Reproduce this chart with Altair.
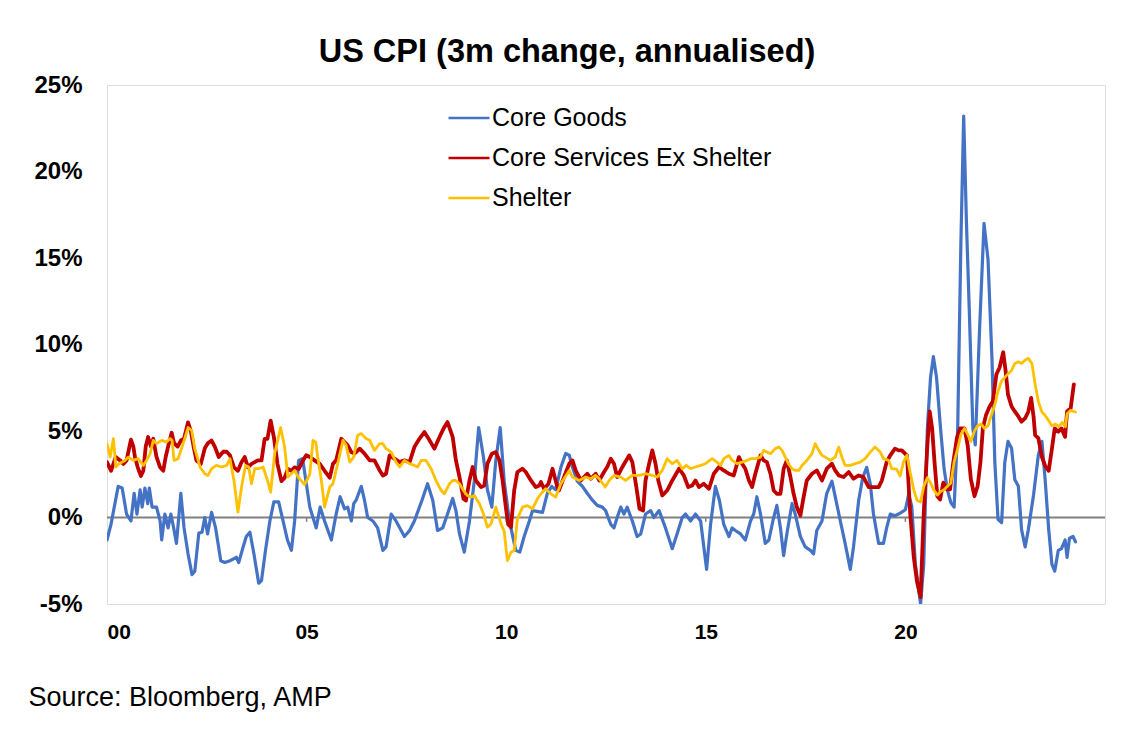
import altair as alt
import pandas as pd

TITLE = "US CPI (3m change, annualised)"
SOURCE = "Source: Bloomberg, AMP"
SERIES = ["Core Goods", "Core Services Ex Shelter", "Shelter"]
COLORS = ["#4472C4", "#C00000", "#FFC000"]
X_TICKS = [2000, 2005, 2010, 2015, 2020]
Y_TICKS = [-5, 0, 5, 10, 15, 20, 25]

CORE_GOODS = [
    (2000.0, -1.3), (2000.1, -0.4), (2000.28, 1.8), (2000.38, 1.7), (2000.49, 0.2), (2000.6, -0.2),
    (2000.68, 1.4), (2000.75, 0.2), (2000.83, 1.6), (2000.88, 0.6), (2000.95, 1.7), (2001.02, 0.8),
    (2001.06, 1.7), (2001.13, 0.6), (2001.24, 0.6), (2001.33, -0.2), (2001.37, -1.3), (2001.45, 0.2),
    (2001.53, -0.6), (2001.6, 0.2), (2001.67, -0.6), (2001.74, -1.5), (2001.85, 1.4), (2001.93, -0.6),
    (2002.03, -2.1), (2002.13, -3.3), (2002.2, -3.1), (2002.3, -0.9), (2002.38, -0.85), (2002.45, 0.0),
    (2002.52, -0.95), (2002.62, 0.3), (2002.72, -0.6), (2002.85, -2.5), (2002.95, -2.6), (2003.08, -2.5),
    (2003.24, -2.3), (2003.3, -2.6), (2003.41, -1.7), (2003.49, -1.1), (2003.58, -0.85), (2003.68, -2.1),
    (2003.8, -3.8), (2003.87, -3.65), (2003.97, -1.9), (2004.08, -0.2), (2004.18, 0.9), (2004.3, 0.9),
    (2004.41, -0.2), (2004.52, -1.3), (2004.62, -1.9), (2004.7, -0.2), (2004.8, 3.3), (2004.9, 3.4),
    (2005.08, 0.6), (2005.16, 0.0), (2005.24, -0.6), (2005.34, 0.6), (2005.45, -0.2), (2005.62, -1.3),
    (2005.74, 0.2), (2005.84, 1.2), (2005.95, 0.5), (2006.03, 0.6), (2006.12, -0.2), (2006.18, 0.8),
    (2006.24, 1.0), (2006.37, 1.8), (2006.45, 1.0), (2006.53, 0.0), (2006.66, -0.2), (2006.78, -0.6),
    (2006.91, -1.9), (2006.99, -1.7), (2007.12, 0.2), (2007.24, -0.2), (2007.45, -1.1), (2007.58, -0.75),
    (2007.7, -0.2), (2007.89, 1.0), (2008.03, 1.95), (2008.16, 1.0), (2008.28, -0.75), (2008.41, -0.6),
    (2008.53, 0.2), (2008.66, 1.1), (2008.74, 0.4), (2008.83, -0.95), (2008.95, -2.0), (2009.08, -0.2),
    (2009.2, 2.1), (2009.31, 5.2), (2009.43, 3.5), (2009.53, 1.6), (2009.64, 0.6), (2009.74, 3.3),
    (2009.85, 5.2), (2009.95, 2.1), (2010.08, -0.2), (2010.24, -1.9), (2010.34, -2.0), (2010.45, -1.1),
    (2010.58, -0.2), (2010.66, 0.4), (2010.91, 0.3), (2011.03, 1.4), (2011.14, 1.8), (2011.24, 1.6),
    (2011.37, 2.9), (2011.49, 3.7), (2011.58, 3.6), (2011.66, 2.9), (2011.78, 2.1), (2011.91, 1.8),
    (2012.03, 1.4), (2012.16, 1.0), (2012.28, 0.7), (2012.41, 0.6), (2012.49, 0.4), (2012.62, -0.4),
    (2012.7, -0.6), (2012.78, 0.0), (2012.87, 0.6), (2012.95, 0.2), (2013.03, 0.6), (2013.16, -0.2),
    (2013.28, -1.1), (2013.37, -0.95), (2013.49, 0.2), (2013.62, 0.4), (2013.7, 0.0), (2013.83, 0.4),
    (2013.99, -0.6), (2014.16, -1.8), (2014.28, -0.95), (2014.41, 0.0), (2014.49, 0.2), (2014.62, -0.2),
    (2014.74, 0.2), (2014.87, -0.2), (2015.02, -3.0), (2015.12, -0.4), (2015.24, 1.8), (2015.34, 1.0),
    (2015.45, -0.4), (2015.58, -1.1), (2015.66, -0.6), (2015.74, -0.75), (2015.87, -0.95), (2015.99, -1.3),
    (2016.12, -0.2), (2016.2, 0.2), (2016.28, 1.2), (2016.37, 0.2), (2016.49, -1.5), (2016.58, -1.3),
    (2016.68, -0.2), (2016.78, 0.7), (2016.87, -0.6), (2016.95, -2.2), (2017.03, -0.95), (2017.16, 0.8),
    (2017.24, 0.2), (2017.37, -1.1), (2017.49, -1.7), (2017.62, -1.9), (2017.7, -2.1), (2017.78, -0.75),
    (2017.91, -0.2), (2018.03, 1.4), (2018.16, 2.1), (2018.26, 1.0), (2018.37, -0.2), (2018.49, -1.5),
    (2018.62, -3.0), (2018.7, -1.7), (2018.83, 1.0), (2018.93, 2.3), (2019.03, 2.9), (2019.12, 1.95),
    (2019.2, 0.2), (2019.33, -1.5), (2019.45, -1.5), (2019.53, -0.6), (2019.62, 0.2), (2019.74, 0.1),
    (2019.87, 0.25), (2020.0, 0.45), (2020.08, 1.33), (2020.16, 0.65), (2020.25, -2.7), (2020.38, -5.0),
    (2020.46, -2.7), (2020.55, 5.15), (2020.63, 8.1), (2020.7, 9.3), (2020.78, 8.1), (2020.88, 5.15),
    (2020.97, 2.8), (2021.05, 1.6), (2021.14, 0.85), (2021.22, 0.6), (2021.31, 5.15), (2021.39, 15.9),
    (2021.46, 23.2), (2021.53, 17.0), (2021.6, 12.0), (2021.69, 5.15), (2021.75, 4.2), (2021.86, 11.0),
    (2021.97, 17.0), (2022.07, 14.9), (2022.17, 9.1), (2022.24, 3.2), (2022.32, -0.1), (2022.41, -0.3),
    (2022.49, 3.2), (2022.57, 4.4), (2022.66, 4.0), (2022.74, 2.2), (2022.83, 1.8), (2022.91, -0.7),
    (2023.0, -1.7), (2023.08, -0.7), (2023.21, 1.3), (2023.33, 3.6), (2023.42, 4.4), (2023.5, 2.2),
    (2023.59, -0.7), (2023.67, -2.7), (2023.74, -3.1), (2023.83, -1.9), (2023.91, -1.8), (2024.0, -1.3),
    (2024.05, -2.3), (2024.11, -1.2), (2024.2, -1.1), (2024.26, -1.4),
]

CORE_SERVICES_EX_SHELTER = [
    (2000.0, 3.2), (2000.1, 2.7), (2000.22, 3.5), (2000.33, 3.3), (2000.41, 3.1), (2000.49, 3.3),
    (2000.6, 4.5), (2000.66, 4.1), (2000.7, 3.5), (2000.77, 2.9), (2000.85, 2.4), (2000.91, 2.7),
    (2000.97, 4.1), (2001.03, 4.65), (2001.1, 4.1), (2001.16, 4.55), (2001.24, 3.5), (2001.33, 2.9),
    (2001.41, 2.7), (2001.47, 3.5), (2001.53, 4.1), (2001.62, 4.9), (2001.68, 4.3), (2001.77, 4.1),
    (2001.85, 4.45), (2001.93, 4.55), (2002.03, 5.5), (2002.1, 5.0), (2002.17, 4.1), (2002.24, 3.3),
    (2002.35, 3.1), (2002.45, 4.0), (2002.53, 4.3), (2002.62, 4.45), (2002.7, 4.1), (2002.8, 3.5),
    (2002.91, 3.8), (2003.0, 3.8), (2003.08, 3.6), (2003.18, 2.9), (2003.28, 2.7), (2003.37, 3.2),
    (2003.45, 3.5), (2003.53, 2.9), (2003.62, 3.1), (2003.7, 3.2), (2003.78, 3.3), (2003.87, 3.3),
    (2003.95, 4.55), (2004.02, 4.55), (2004.1, 5.6), (2004.18, 4.65), (2004.27, 3.1), (2004.37, 2.1),
    (2004.45, 2.3), (2004.53, 2.8), (2004.62, 2.7), (2004.7, 2.9), (2004.8, 2.8), (2004.91, 3.3),
    (2004.99, 3.6), (2005.08, 3.5), (2005.2, 3.3), (2005.33, 3.1), (2005.45, 2.7), (2005.58, 2.3),
    (2005.66, 3.1), (2005.74, 3.3), (2005.87, 4.55), (2005.95, 4.36), (2006.03, 4.17), (2006.12, 3.78),
    (2006.2, 3.69), (2006.33, 3.98), (2006.45, 3.69), (2006.58, 3.3), (2006.7, 3.3), (2006.83, 2.72),
    (2006.91, 2.43), (2006.99, 2.53), (2007.08, 3.59), (2007.2, 3.4), (2007.33, 3.2), (2007.45, 3.3),
    (2007.58, 3.2), (2007.7, 4.07), (2007.83, 4.56), (2007.95, 4.94), (2008.08, 4.46), (2008.2, 3.98),
    (2008.33, 4.65), (2008.43, 5.14), (2008.53, 5.52), (2008.66, 4.65), (2008.74, 3.3), (2008.83, 2.34),
    (2008.93, 1.08), (2008.99, 0.98), (2009.08, 2.14), (2009.16, 2.92), (2009.24, 2.14), (2009.37, 1.76),
    (2009.45, 1.85), (2009.53, 3.11), (2009.64, 3.69), (2009.74, 3.78), (2009.83, 3.3), (2009.91, 2.14),
    (2009.99, 0.6), (2010.05, -0.4), (2010.12, -0.56), (2010.2, 1.56), (2010.28, 2.63), (2010.41, 2.82),
    (2010.49, 2.63), (2010.62, 2.14), (2010.74, 1.76), (2010.83, 1.85), (2010.87, 2.05), (2010.95, 1.66),
    (2011.06, 1.95), (2011.16, 2.82), (2011.26, 1.95), (2011.32, 1.56), (2011.45, 2.34), (2011.58, 3.11),
    (2011.66, 3.3), (2011.74, 2.72), (2011.87, 2.14), (2011.95, 2.34), (2012.03, 2.53), (2012.12, 2.24),
    (2012.24, 2.53), (2012.33, 2.14), (2012.45, 2.63), (2012.53, 2.92), (2012.62, 3.4), (2012.7, 3.11),
    (2012.78, 2.34), (2012.91, 2.92), (2013.08, 3.59), (2013.16, 3.2), (2013.26, 1.76), (2013.34, 0.5),
    (2013.43, 0.41), (2013.49, 2.14), (2013.58, 3.11), (2013.66, 3.88), (2013.74, 3.11), (2013.81, 2.14),
    (2013.91, 1.27), (2014.03, 1.56), (2014.16, 2.14), (2014.33, 2.82), (2014.45, 2.43), (2014.56, 1.76),
    (2014.66, 1.85), (2014.74, 2.14), (2014.83, 1.76), (2014.95, 1.95), (2015.08, 1.66), (2015.2, 2.53),
    (2015.33, 2.92), (2015.45, 2.72), (2015.58, 2.53), (2015.7, 2.43), (2015.83, 3.49), (2015.91, 3.11),
    (2015.99, 2.82), (2016.08, 2.14), (2016.16, 1.76), (2016.24, 2.53), (2016.37, 3.59), (2016.45, 3.3),
    (2016.53, 3.2), (2016.62, 2.53), (2016.7, 1.56), (2016.78, 1.37), (2016.87, 1.37), (2016.95, 2.82),
    (2017.03, 3.3), (2017.12, 2.34), (2017.2, 1.37), (2017.28, 0.6), (2017.37, 0.12), (2017.45, 1.18),
    (2017.53, 2.14), (2017.66, 2.53), (2017.78, 2.72), (2017.91, 2.14), (2018.03, 2.82), (2018.16, 3.11),
    (2018.24, 2.72), (2018.33, 2.43), (2018.45, 2.34), (2018.58, 2.63), (2018.7, 2.24), (2018.83, 2.43),
    (2018.95, 2.34), (2019.08, 1.76), (2019.2, 1.76), (2019.33, 1.76), (2019.41, 2.14), (2019.53, 3.2),
    (2019.62, 3.59), (2019.74, 3.98), (2019.83, 3.88), (2019.91, 3.88), (2020.04, 3.58), (2020.12, 0.25),
    (2020.21, -2.3), (2020.29, -3.7), (2020.38, -4.6), (2020.46, 0.25), (2020.55, 4.17), (2020.61, 6.13),
    (2020.67, 5.15), (2020.73, 3.19), (2020.8, 1.23), (2020.87, 1.04), (2020.95, 2.02), (2021.04, 1.63),
    (2021.12, 1.63), (2021.2, 3.19), (2021.29, 4.59), (2021.37, 5.15), (2021.48, 5.15), (2021.56, 4.17),
    (2021.64, 2.21), (2021.73, 1.23), (2021.81, 1.82), (2021.88, 3.19), (2021.94, 5.15), (2022.02, 5.93),
    (2022.11, 6.42), (2022.19, 6.72), (2022.28, 8.28), (2022.36, 8.67), (2022.45, 9.55), (2022.51, 8.48),
    (2022.57, 7.1), (2022.66, 6.42), (2022.74, 6.13), (2022.83, 5.84), (2022.91, 5.54), (2023.0, 5.74),
    (2023.08, 6.13), (2023.15, 6.91), (2023.21, 5.84), (2023.25, 4.76), (2023.33, 4.59), (2023.42, 3.49),
    (2023.5, 2.99), (2023.59, 2.7), (2023.67, 3.97), (2023.74, 5.15), (2023.83, 4.96), (2023.91, 5.15),
    (2024.0, 4.66), (2024.05, 6.13), (2024.14, 6.32), (2024.22, 7.7),
]

SHELTER = [
    (2000.0, 4.27), (2000.08, 3.49), (2000.16, 4.56), (2000.22, 2.92), (2000.3, 3.11), (2000.45, 3.3),
    (2000.53, 3.49), (2000.66, 3.3), (2000.78, 3.4), (2000.91, 3.01), (2000.99, 3.3), (2001.08, 3.69),
    (2001.16, 4.46), (2001.24, 4.27), (2001.37, 4.46), (2001.49, 4.36), (2001.58, 4.56), (2001.63, 4.46),
    (2001.68, 3.3), (2001.78, 3.4), (2001.88, 4.07), (2002.03, 5.2), (2002.12, 5.04), (2002.2, 3.98),
    (2002.33, 2.92), (2002.45, 2.53), (2002.53, 2.43), (2002.62, 2.82), (2002.74, 3.01), (2002.87, 2.92),
    (2003.0, 3.01), (2003.08, 3.4), (2003.18, 2.14), (2003.28, 0.31), (2003.37, 1.76), (2003.47, 3.01),
    (2003.55, 2.92), (2003.62, 1.95), (2003.7, 2.82), (2003.8, 2.82), (2003.91, 2.92), (2004.02, 2.14),
    (2004.1, 1.47), (2004.2, 3.69), (2004.35, 5.2), (2004.45, 4.07), (2004.53, 2.34), (2004.62, 2.53),
    (2004.7, 2.72), (2004.8, 2.3), (2004.95, 1.9), (2005.08, 2.5), (2005.16, 4.46), (2005.23, 4.36),
    (2005.28, 3.49), (2005.37, 2.14), (2005.45, 0.6), (2005.58, 1.76), (2005.66, 1.95), (2005.78, 3.11),
    (2005.91, 4.46), (2005.99, 4.17), (2006.08, 3.2), (2006.18, 3.49), (2006.28, 4.75), (2006.37, 4.85),
    (2006.49, 4.56), (2006.58, 4.46), (2006.7, 3.88), (2006.83, 4.27), (2006.91, 4.27), (2006.99, 3.98),
    (2007.12, 3.78), (2007.24, 3.2), (2007.33, 2.92), (2007.45, 3.3), (2007.58, 3.11), (2007.7, 3.01),
    (2007.78, 2.92), (2007.87, 3.3), (2007.99, 3.3), (2008.12, 2.82), (2008.24, 2.14), (2008.37, 1.56),
    (2008.45, 1.37), (2008.58, 1.95), (2008.66, 2.14), (2008.74, 2.14), (2008.83, 1.95), (2008.93, 1.56),
    (2009.03, 1.27), (2009.12, 1.18), (2009.2, 1.27), (2009.33, 0.79), (2009.43, 0.21), (2009.53, -0.56),
    (2009.62, -0.37), (2009.74, 0.6), (2009.87, -0.37), (2009.95, -0.8), (2010.03, -2.49), (2010.12, -2.01),
    (2010.2, -1.91), (2010.28, -0.08), (2010.41, 0.6), (2010.53, 0.69), (2010.66, 0.5), (2010.78, 1.08),
    (2010.87, 1.37), (2010.99, 1.66), (2011.12, 1.37), (2011.24, 1.18), (2011.37, 1.95), (2011.58, 2.72),
    (2011.66, 2.34), (2011.83, 2.14), (2011.99, 2.34), (2012.12, 2.24), (2012.24, 2.43), (2012.33, 2.24),
    (2012.48, 1.76), (2012.58, 2.14), (2012.7, 2.43), (2012.87, 2.34), (2012.99, 2.14), (2013.16, 2.43),
    (2013.33, 2.43), (2013.49, 2.53), (2013.66, 2.43), (2013.78, 2.34), (2013.91, 2.72), (2014.03, 3.4),
    (2014.16, 3.11), (2014.28, 3.3), (2014.41, 2.82), (2014.51, 3.01), (2014.62, 2.82), (2014.74, 2.92),
    (2014.87, 3.01), (2014.99, 3.11), (2015.16, 3.4), (2015.28, 3.2), (2015.37, 3.01), (2015.45, 3.4),
    (2015.58, 3.59), (2015.66, 3.3), (2015.78, 3.11), (2015.91, 3.2), (2016.03, 3.3), (2016.12, 3.4),
    (2016.24, 3.4), (2016.37, 3.49), (2016.45, 3.88), (2016.53, 3.78), (2016.62, 3.69), (2016.74, 3.98),
    (2016.83, 4.07), (2016.91, 3.88), (2016.99, 3.49), (2017.07, 3.11), (2017.16, 2.82), (2017.24, 2.72),
    (2017.33, 2.72), (2017.41, 3.01), (2017.53, 3.3), (2017.66, 3.69), (2017.74, 4.27), (2017.83, 3.88),
    (2017.91, 3.59), (2017.99, 3.49), (2018.12, 3.3), (2018.24, 3.49), (2018.33, 4.07), (2018.41, 3.49),
    (2018.49, 3.01), (2018.62, 3.01), (2018.74, 3.11), (2018.87, 3.2), (2018.99, 3.4), (2019.12, 3.78),
    (2019.24, 4.07), (2019.37, 3.78), (2019.45, 3.4), (2019.58, 3.3), (2019.66, 2.82), (2019.78, 2.8),
    (2019.87, 2.4), (2019.95, 3.2), (2020.04, 3.6), (2020.12, 2.6), (2020.21, 1.6), (2020.29, 1.0),
    (2020.38, 0.9), (2020.46, 1.8), (2020.55, 2.3), (2020.63, 2.0), (2020.71, 1.6), (2020.8, 1.3),
    (2020.88, 1.5), (2020.97, 1.6), (2021.05, 1.8), (2021.14, 2.0), (2021.22, 3.2), (2021.31, 4.0),
    (2021.39, 4.8), (2021.48, 5.15), (2021.56, 4.8), (2021.64, 4.4), (2021.73, 5.0), (2021.81, 5.3),
    (2021.9, 5.4), (2021.98, 5.15), (2022.07, 5.3), (2022.15, 5.9), (2022.24, 6.5), (2022.32, 7.3),
    (2022.41, 7.9), (2022.49, 8.1), (2022.57, 8.3), (2022.66, 8.5), (2022.74, 8.9), (2022.83, 9.0),
    (2022.91, 8.9), (2023.0, 9.1), (2023.08, 9.2), (2023.17, 8.9), (2023.25, 7.7), (2023.33, 6.7),
    (2023.42, 6.1), (2023.5, 5.9), (2023.59, 5.6), (2023.67, 5.3), (2023.76, 5.4), (2023.84, 5.25),
    (2023.93, 5.5), (2024.01, 5.25), (2024.05, 6.0), (2024.14, 6.2), (2024.26, 6.1),
]


def frame(name, pts):
    return pd.DataFrame({
        "year": [p[0] for p in pts],
        "value": [p[1] for p in pts],
        "series": name,
    })


FONT = "Liberation Sans"
color_scale = alt.Scale(domain=SERIES, range=COLORS)

x_enc = alt.X(
    "year:Q",
    scale=alt.Scale(domain=[2000, 2025], nice=False, zero=False),
    axis=alt.Axis(
        values=X_TICKS,
        labelExpr="substring(toString(datum.value), 2, 4)",
        grid=False, domain=False, ticks=False, tickSize=0,
        labelFont=FONT, labelFontSize=21, labelFontWeight="bold", labelColor="black",
        labelPadding=17,
        title=SOURCE, titleFont=FONT, titleFontSize=27, titleFontWeight="normal",
        titleColor="black", titleAnchor="start", titleAlign="left",
        titleBaseline="alphabetic", titleX=-79, titleY=101,
    ),
)
y_enc = alt.Y(
    "value:Q",
    scale=alt.Scale(domain=[-5, 25], nice=False, zero=False),
    axis=alt.Axis(
        values=Y_TICKS,
        labelExpr="datum.value + '%'",
        grid=False, domain=False, ticks=False, tickSize=0,
        labelFont=FONT, labelFontSize=24, labelFontWeight="bold", labelColor="black",
        labelPadding=25,
    ),
    title=None,
)

zero = alt.Chart(pd.DataFrame({"value": [0]})).mark_rule(
    color="#808080", strokeWidth=2
).encode(y=alt.Y("value:Q", scale=alt.Scale(domain=[-5, 25], nice=False)))

zero_ticks = alt.Chart(
    pd.DataFrame({"year": X_TICKS[1:], "lo": [0] * 4, "hi": [-0.25] * 4})
).mark_rule(color="#808080", strokeWidth=1.5).encode(
    x=alt.X("year:Q"), y=alt.Y("lo:Q"), y2="hi:Q"
)

legend = alt.Legend(
    orient="none", legendX=340, legendY=11, title=None,
    symbolType="stroke", symbolSize=1681, symbolStrokeWidth=2.5,
    labelFont=FONT, labelFontSize=25, labelColor="black", labelOffset=1,
    labelLimit=0, rowPadding=5,
)


def line(pts, name, width):
    return alt.Chart(frame(name, pts)).mark_line(
        strokeWidth=width, clip=True, strokeJoin="round", strokeCap="round"
    ).encode(
        x=x_enc,
        y=y_enc,
        color=alt.Color("series:N", scale=color_scale, legend=legend),
        order=alt.Order("year:Q"),
    )


chart = alt.layer(
    zero,
    zero_ticks,
    line(CORE_GOODS, "Core Goods", 3.2),
    line(CORE_SERVICES_EX_SHELTER, "Core Services Ex Shelter", 3.8),
    line(SHELTER, "Shelter", 2.8),
).properties(
    width=998,
    height=519,
    title=alt.TitleParams(
        TITLE, anchor="middle", frame="bounds", font=FONT, fontSize=32.5,
        fontWeight="bold", color="black", baseline="alphabetic", offset=-21,
    ),
    padding={"left": 20, "top": 27, "right": 10, "bottom": 10},
).configure_view(
    stroke="#808080", strokeWidth=2
).configure(background="white")

chart.save("out.html", embed_options={"renderer": "svg", "actions": False})
